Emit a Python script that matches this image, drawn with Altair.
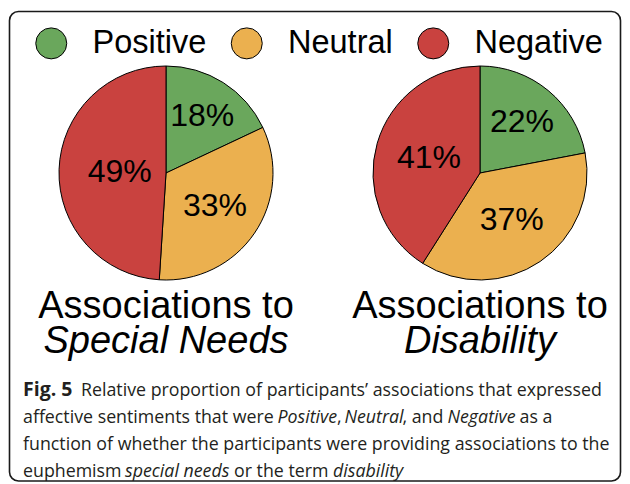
import altair as alt
import pandas as pd

# ---- data ----
terms = ["Special Needs", "Disability"]
sentiments = ["Positive", "Neutral", "Negative"]
special_needs_pct = [18, 33, 49]
disability_pct = [22, 37, 41]
colors = ["#6aa75c", "#ebb04f", "#c9423f"]
title_prefix = "Associations to"

caption_lines = [
    [("Fig. 5", "bold", "normal"),
     ("Relative proportion of participants\u2019 associations that expressed", "normal", "normal")],
    [("affective sentiments that were", "normal", "normal"),
     ("Positive", "normal", "italic"),
     (",", "normal", "normal"),
     ("Neutral", "normal", "italic"),
     (", and", "normal", "normal"),
     ("Negative", "normal", "italic"),
     ("as a", "normal", "normal")],
    [("function of whether the participants were providing associations to the", "normal", "normal")],
    [("euphemism", "normal", "normal"),
     ("special needs", "normal", "italic"),
     ("or the term", "normal", "normal"),
     ("disability", "normal", "italic")],
]
# layout (chart pixel coordinates) of caption segments
caption_x = [
    [15, 73],
    [15, 269.5, 329, 336.5, 394.5, 439.5, 511.5],
    [15],
    [15, 117, 226, 325],
]
caption_y = [388, 415, 442, 469]

R = 107
centers = [(158, 165), (472, 165)]

rows = []
for term, vals in zip(terms, [special_needs_pct, disability_pct]):
    for i, (s, v) in enumerate(zip(sentiments, vals)):
        rows.append({"term": term, "sentiment": s, "value": v, "order": i})
df = pd.DataFrame(rows)

color_scale = alt.Scale(domain=sentiments, range=colors)

layers = []

# border
layers.append(
    alt.Chart(pd.DataFrame({"a": [0]})).mark_rect(
        filled=False, stroke="#1a1a1a", strokeWidth=1.6, cornerRadius=9
    ).encode(x=alt.value(1.5), x2=alt.value(612.5), y=alt.value(3.5), y2=alt.value(473))
)

for k, (term, (cx, cy)) in enumerate(zip(terms, centers)):
    base = alt.Chart(df).transform_filter(alt.datum.term == term)
    arc = base.mark_arc(radius=R, stroke="black", strokeWidth=1).encode(
        theta=alt.Theta("value:Q", stack=True),
        color=alt.Color(
            "sentiment:N",
            scale=color_scale,
            legend=alt.Legend(
                title=None,
                orient="none",
                legendX=27,
                legendY=19,
                direction="horizontal",
                symbolType="circle",
                symbolSize=961,
                symbolStrokeColor="black",
                symbolStrokeWidth=1,
                symbolOpacity=1,
                labelFont="Liberation Sans",
                labelFontSize=32.5,
                labelColor="black",
                labelOffset=25,
                columnPadding=21.5,
                labelLimit=300,
            ),
        ),
        order=alt.Order("order:Q"),
        x=alt.value(cx),
        y=alt.value(cy),
    )
    lab = base.transform_window(
        cum="sum(value)", sort=[alt.SortField("order")], frame=[None, 0]
    ).transform_calculate(
        mid="(datum.cum - datum.value / 2) / 100 * 2 * PI",
        alpha="datum.value / 100 * 2 * PI",
        label="datum.value + '%'",
    ).transform_calculate(
        r=f"4 * {R} * sin(datum.alpha / 2) / (3 * datum.alpha)"
    )
    txt = lab.mark_text(
        font="Liberation Sans", fontSize=32, color="black", align="center", baseline="middle"
    ).encode(
        theta=alt.Theta("mid:Q", scale=None, stack=None),
        radius=alt.Radius("r:Q", scale=None),
        text="label:N",
        x=alt.value(cx),
        y=alt.value(cy),
    )
    t1 = alt.Chart(pd.DataFrame({"t": [title_prefix]})).mark_text(
        font="Liberation Sans", fontSize=38, color="black", align="center", baseline="alphabetic"
    ).encode(text="t:N", x=alt.value(cx), y=alt.value(310))
    t2 = alt.Chart(pd.DataFrame({"t": [term]})).mark_text(
        font="Liberation Sans", fontSize=38, fontStyle="italic", color="black",
        align="center", baseline="alphabetic"
    ).encode(text="t:N", x=alt.value(cx), y=alt.value(345))
    layers += [arc, txt, t1, t2]

for line, xs, y in zip(caption_lines, caption_x, caption_y):
    for (text, weight, style), x in zip(line, xs):
        layers.append(
            alt.Chart(pd.DataFrame({"t": [text]})).mark_text(
                font="Open Sans", fontSize=19.5 if weight == "bold" else 17.8,
                fontWeight=weight, fontStyle=style,
                color="#231f20", align="left", baseline="alphabetic"
            ).encode(text="t:N", x=alt.value(x), y=alt.value(y))
        )

chart = alt.layer(*layers).properties(
    width=614, height=474, padding=0, autosize="none", background="white"
).configure_view(stroke=None)

chart.save("out.html", embed_options={"renderer": "svg", "actions": False})
